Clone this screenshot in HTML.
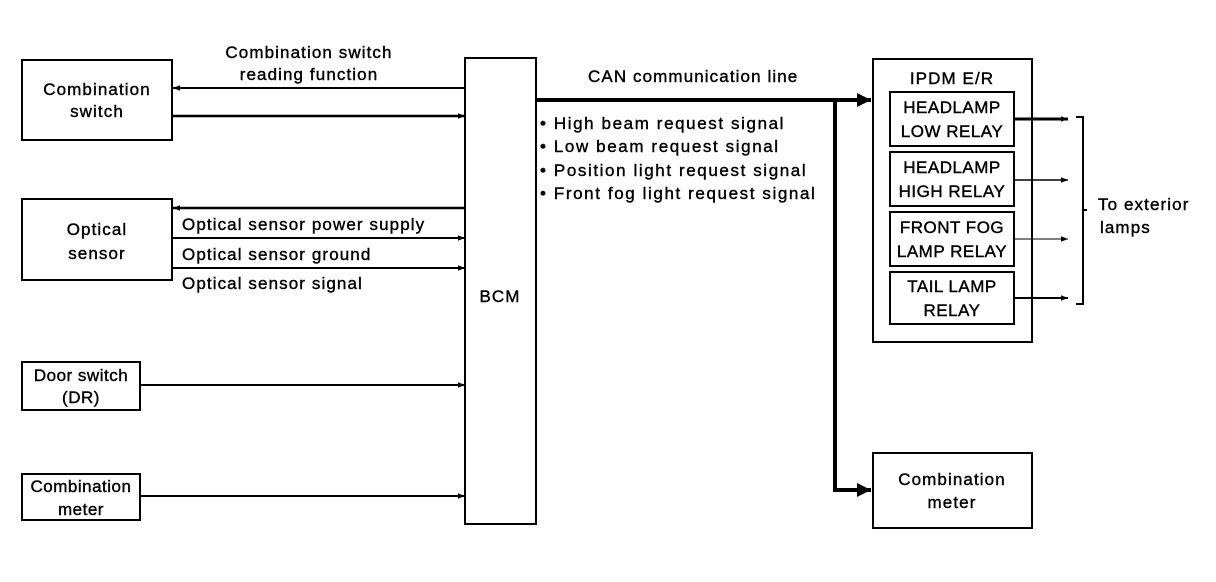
<!DOCTYPE html>
<html><head><meta charset="utf-8"><style>
html,body{margin:0;padding:0;background:#fff;}
svg{display:block;font-family:"Liberation Sans",Arial,sans-serif;}
text{font-size:17px;fill:#000;stroke:#000;stroke-width:0.4;letter-spacing:1.1px;}
.bl{letter-spacing:1.6px;}
.sm{letter-spacing:0.5px;}
</style></head><body>
<svg width="1216" height="582" viewBox="0 0 1216 582" xmlns="http://www.w3.org/2000/svg">
<defs>
<marker id="a" viewBox="0 0 10 10" refX="10" refY="5" markerWidth="14" markerHeight="7" markerUnits="userSpaceOnUse" orient="auto"><path d="M0,1 L10,5 L0,9 z" fill="#000"/></marker>
<marker id="b" viewBox="0 0 10 10" refX="10" refY="5" markerWidth="24" markerHeight="14" markerUnits="userSpaceOnUse" orient="auto"><path d="M0,0 L10,5 L0,10 z" fill="#000"/></marker>
</defs>
<g fill="none" stroke="#000" stroke-width="2">
<rect x="22" y="60" width="150" height="80"/>
<rect x="22" y="199" width="150" height="81"/>
<rect x="22" y="362" width="118" height="48"/>
<rect x="22" y="474" width="118" height="46"/>
<rect x="465" y="58" width="71" height="466"/>
<rect x="873" y="59" width="159" height="283"/>
<rect x="890" y="92" width="124" height="54"/>
<rect x="890" y="152" width="124" height="54"/>
<rect x="890" y="212" width="124" height="54"/>
<rect x="890" y="272" width="124" height="52"/>
<rect x="873" y="453" width="159" height="75"/>
</g>
<g stroke="#000" stroke-width="2">
<line x1="465" y1="88" x2="173" y2="88" marker-end="url(#a)"/>
<line x1="173" y1="116" x2="465" y2="116" marker-end="url(#a)" stroke-width="2.5"/>
<line x1="465" y1="208" x2="173" y2="208" marker-end="url(#a)" stroke-width="2.5"/>
<line x1="173" y1="238" x2="465" y2="238" marker-end="url(#a)"/>
<line x1="173" y1="268" x2="465" y2="268" marker-end="url(#a)"/>
<line x1="140" y1="385" x2="465" y2="385" marker-end="url(#a)"/>
<line x1="140" y1="496" x2="465" y2="496" marker-end="url(#a)"/>
<line x1="536" y1="100" x2="871" y2="100" stroke-width="4" marker-end="url(#b)"/>
<line x1="835" y1="100" x2="835" y2="490" stroke-width="4"/>
<line x1="833" y1="490" x2="871" y2="490" stroke-width="4" marker-end="url(#b)"/>
<line x1="1014" y1="119" x2="1068" y2="119" stroke-width="3" marker-end="url(#a)"/>
<line x1="1014" y1="180" x2="1068" y2="180" stroke-width="1.5" marker-end="url(#a)"/>
<line x1="1014" y1="239" x2="1068" y2="239" stroke-width="1" marker-end="url(#a)"/>
<line x1="1014" y1="298" x2="1068" y2="298" stroke-width="2" marker-end="url(#a)"/>
</g>
<path d="M1076,117 H1083 V304 H1076 M1083,210 H1087" fill="none" stroke="#000" stroke-width="2"/>
<g text-anchor="middle">
<text x="309" y="58">Combination switch</text>
<text x="309" y="80">reading function</text>
<text x="97" y="95">Combination</text>
<text x="97" y="117">switch</text>
<text x="97" y="235">Optical</text>
<text x="97" y="259">sensor</text>
<text class="sm" x="81" y="381">Door switch</text>
<text class="sm" x="81" y="403">(DR)</text>
<text class="sm" x="81" y="492">Combination</text>
<text class="sm" x="81" y="515">meter</text>
<text x="500" y="302">BCM</text>
<text x="952" y="84">IPDM E/R</text>
<text class="sm" x="952" y="113">HEADLAMP</text>
<text class="sm" x="952" y="137">LOW RELAY</text>
<text class="sm" x="952" y="173">HEADLAMP</text>
<text class="sm" x="952" y="197">HIGH RELAY</text>
<text class="sm" x="952" y="233">FRONT FOG</text>
<text class="sm" x="952" y="257">LAMP RELAY</text>
<text class="sm" x="952" y="292">TAIL LAMP</text>
<text class="sm" x="952" y="316">RELAY</text>
<text x="952" y="485">Combination</text>
<text x="952" y="508">meter</text>
</g>
<text x="182" y="230">Optical sensor power supply</text>
<text x="182" y="260">Optical sensor ground</text>
<text x="182" y="289">Optical sensor signal</text>
<text x="588" y="82">CAN communication line</text>
<text class="bl" x="540" y="129">• High beam request signal</text>
<text class="bl" x="540" y="152">• Low beam request signal</text>
<text class="bl" x="540" y="176">• Position light request signal</text>
<text class="bl" x="540" y="199">• Front fog light request signal</text>
<text x="1098" y="210">To exterior</text>
<text x="1100" y="233">lamps</text>
</svg>
</body></html>
